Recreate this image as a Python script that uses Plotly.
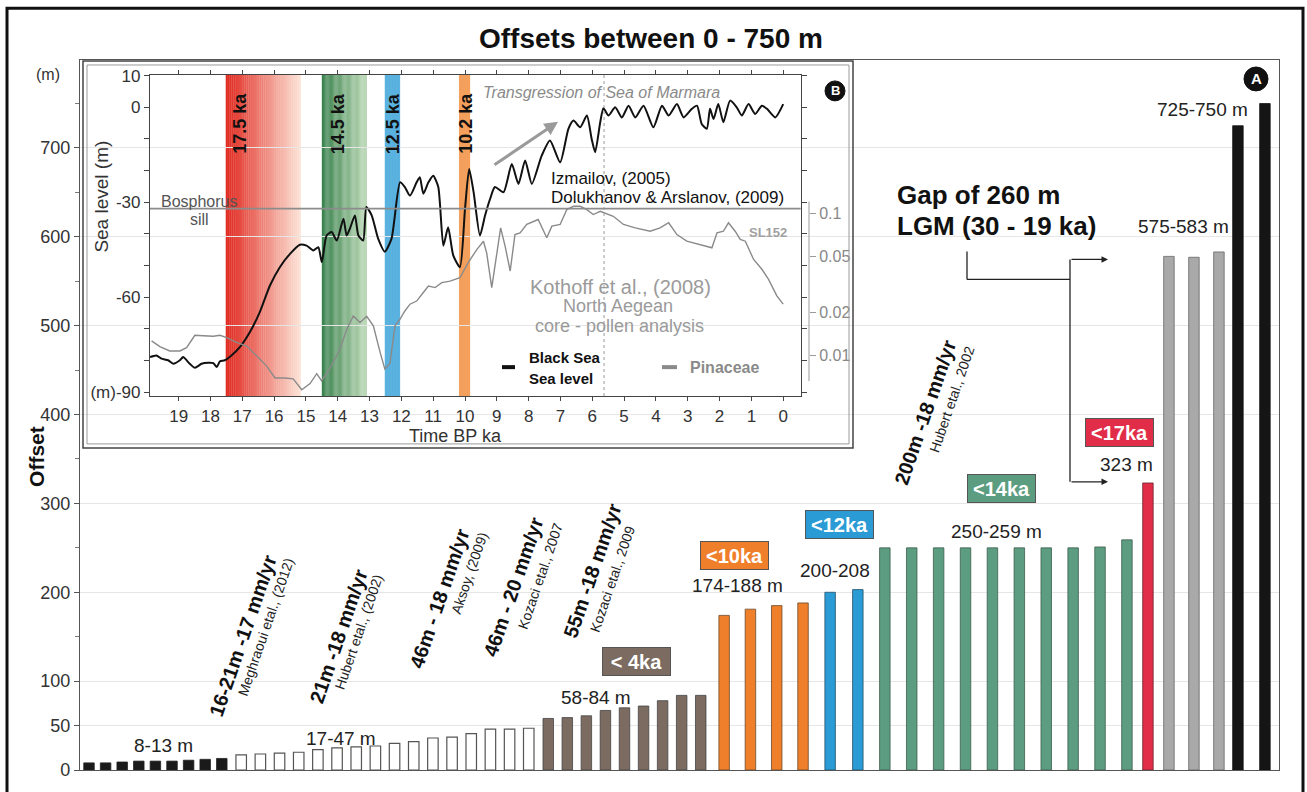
import plotly.graph_objects as go

FONT = "Liberation Sans, Arial, sans-serif"
W, H = 1307, 792
PL, PR, PT, PB = 80, 1279, 60, 772


def px(x):
    return (x - PL) / (PR - PL)


def py(y):
    return (PB - y) / (PB - PT)


# ---------------- main chart data (offsets, m) ----------------
GROUP_LABELS = ["8-13 m", "17-47 m", "58-84 m", "174-188 m", "200-208",
                "250-259 m", "323 m", "575-583 m", "725-750 m"]
OFF_8_13 = [8, 8, 9, 10, 10, 10, 11, 12, 13]
OFF_17_47 = [17, 18, 19, 20, 23, 25, 26, 27, 30, 32, 36, 37, 41, 46, 46, 47]
OFF_58_84 = [58, 59, 61, 67, 70, 72, 78, 84, 84]
OFF_LT10 = [174, 181, 185, 188]
OFF_LT12 = [200, 203]
OFF_LT14 = [250, 250, 250, 250, 250, 250, 250, 250, 251, 259]
OFF_LT17 = [323]
OFF_575_583 = [578, 577, 583]
OFF_725_750 = [725, 750]
AGE_BOX_LABELS = ["< 4ka", "<10ka", "<12ka", "<14ka", "<17ka"]
Y_TICKS = [0, 50, 100, 200, 300, 400, 500, 600, 700]

# ---------------- inset data ----------------
SL_KA = [19.9, 19.7, 19.54, 19.33, 19.17, 18.96, 18.86, 18.65, 18.49, 18.28, 18.07, 17.91, 17.8, 17.7,
         17.55, 17.34, 17.07, 16.76, 16.45, 16.13, 15.82, 15.5, 15.19, 14.98, 14.77, 14.61, 14.5, 14.35,
         14.19, 14.03, 13.82, 13.72, 13.62, 13.46, 13.35, 13.2, 13.1, 12.93, 12.73, 12.52, 12.31, 12.04,
         11.89, 11.73, 11.52, 11.42, 11.31, 11.15, 11.0, 10.84, 10.68, 10.53, 10.37, 10.16, 10.0, 9.87,
         9.73, 9.53, 9.37, 9.21, 9.06, 8.79, 8.53, 8.32, 8.11, 7.9, 7.59, 7.33, 7.01, 6.75, 6.59, 6.38,
         6.17, 6.02, 5.91, 5.75, 5.65, 5.49, 5.28, 5.07, 4.86, 4.65, 4.39, 4.08, 3.81, 3.6, 3.34, 3.13,
         2.87, 2.71, 2.56, 2.4, 2.3, 2.19, 2.04, 1.88, 1.67, 1.46, 1.3, 1.09, 0.88, 0.67, 0.51, 0.25, 0.0]
SL_M = [-78.9, -78.4, -79.4, -79.9, -81, -79.9, -78.9, -81, -82.3, -81, -80.7, -80.8, -82, -80.2,
        -79.9, -78.4, -75.7, -71, -64.7, -56.3, -50.5, -46.3, -43.4, -43.7, -45.2, -44.2, -48.9, -40.5,
        -39.4, -42.1, -35.2, -40.5, -38.4, -34.2, -40.5, -42.1, -31.5, -34.2, -41.5, -45.6, -41.5, -23.7,
        -25.2, -27.9, -23.7, -22.1, -27.3, -23.7, -21.6, -25.2, -43.7, -37.9, -46.8, -50.5, -32.1, -19.5,
        -26.8, -40.5, -34.2, -28.9, -25.2, -26.8, -17.9, -24.2, -16.8, -24.2, -15.3, -10.5, -17.4, -6.8,
        -4.2, -6.3, -2.6, -10, -14.2, -4.7, -0.3, -2.6, 0, -3.2, 0.5, -3.2, 0.5, -6.3, 0.5, -2.6, 1, -3.2,
        -0.5, 0.5, -5.3, -6.8, -0.5, -3.7, 1, -4.7, 2.1, 0, -2.6, 1, -2.1, 0.5, -0.5, -3.2, 1]
PIN_KA = [19.85, 19.59, 19.28, 18.96, 18.75, 18.49, 18.23, 17.91, 17.7, 17.49, 17.18, 16.86, 16.55, 16.24,
          15.97, 15.66, 15.4, 15.13, 14.87, 14.66, 14.51, 14.25, 13.93, 13.72, 13.51, 13.3, 13.09, 12.88,
          12.67, 12.52, 12.36, 12.2, 12.04, 11.89, 11.73, 11.52, 11.31, 11.15, 10.94, 10.73, 10.47, 10.16,
          9.9, 9.63, 9.42, 9.32, 9.16, 9.0, 8.88, 8.74, 8.58, 8.43, 8.27, 8.06, 7.7, 7.43, 7.27, 7.01, 6.8,
          6.59, 6.38, 6.17, 5.97, 5.75, 5.34, 5.02, 4.65, 4.18, 3.87, 3.6, 3.34, 3.03, 2.61, 2.24, 2.08,
          1.88, 1.72, 1.51, 1.35, 1.19, 0.93, 0.67, 0.46, 0.2, 0.0]
PIN_FRAC = [0.0126, 0.0115, 0.0107, 0.0107, 0.0113, 0.0138, 0.0137, 0.0136, 0.0138, 0.0133, 0.0123, 0.0116,
            0.0099, 0.0084, 0.0069, 0.0069, 0.0068, 0.0057, 0.0063, 0.0074, 0.0066, 0.0080, 0.0110, 0.0152,
            0.0189, 0.0170, 0.0188, 0.0161, 0.0105, 0.0080, 0.0087, 0.0161, 0.0180, 0.0205, 0.0229, 0.0241,
            0.0277, 0.0308, 0.0300, 0.0325, 0.0333, 0.0352, 0.0450, 0.0557, 0.0638, 0.0528, 0.0300, 0.0528,
            0.0793, 0.0589, 0.0393, 0.0711, 0.0731, 0.0838, 0.0908, 0.0675, 0.0815, 0.0838, 0.1067, 0.1125,
            0.1125, 0.1067, 0.0984, 0.1038, 0.0957, 0.0838, 0.0793, 0.0750, 0.0793, 0.0861, 0.0711, 0.0638,
            0.0605, 0.0573, 0.0731, 0.0750, 0.0861, 0.0750, 0.0656, 0.0638, 0.0474, 0.0404, 0.0343, 0.0262,
            0.0229]
BAND_LABELS = ["17.5 ka", "14.5 ka", "12.5 ka", "10.2 ka"]
BAND_START = [17.52, 14.5, 12.52, 10.19]
BAND_END = [15.16, 13.08, 12.04, 9.84]
SILL_LEVEL = -32
DOTTED_KA = 5.63
TIME_TICKS = list(range(0, 20))
SL_TICKS = [10, 0, -10, -20, -30, -40, -50, -60, -70, -80, -90]
SL_TICKTEXT = ["10", "0", "", "", "-30", "", "", "-60", "", "", "(m)-90"]
PIN_TICKS = [0.01, 0.02, 0.05, 0.1]

# ---------------- styles / layout constants ----------------
GROUP_VALUES = [OFF_8_13, OFF_17_47, OFF_58_84, OFF_LT10, OFF_LT12, OFF_LT14, OFF_LT17, OFF_575_583, OFF_725_750]
GROUP_FILL = ["#1a1a1a", "#ffffff", "#7b6b60", "#ef7f2a", "#2a9bd5", "#5c9c80", "#e12d48", "#a9a9a9", "#151515"]
GROUP_LINE = ["#222222", "#555555", "#444444", "#6b4a2a", "#24506a", "#3c5e4c", "#6a2430", "#666666", "#111111"]
FIRST_BAR_X = 89
GROUP_PITCH = [16.6, 19.17, 19.06, 26.3, 27.7, 26.9, 21.0, 25.0, 27.0]
GROUP_GAP = [0, 19.4, 19.5, 23.4, 27.1, 27.0, 21.0, 21.0, 19.0]
BAR_W = 10.5

fig = go.Figure()

cur = None
for gi, vals in enumerate(GROUP_VALUES):
    xs = []
    for j in range(len(vals)):
        if cur is None:
            cur = FIRST_BAR_X
        elif j == 0:
            cur += GROUP_GAP[gi]
        else:
            cur += GROUP_PITCH[gi]
        xs.append(cur)
    fig.add_trace(go.Bar(x=xs, y=vals, width=BAR_W, name=GROUP_LABELS[gi],
                         marker=dict(color=GROUP_FILL[gi],
                                     line=dict(color=GROUP_LINE[gi], width=1.2 if gi == 1 else 0.8)),
                         xaxis="x", yaxis="y", showlegend=False, hoverinfo="skip"))

fig.add_trace(go.Scatter(x=SL_KA, y=SL_M, mode="lines", name="Black Sea level",
                         line=dict(color="#111111", width=2, shape="spline", smoothing=0.6),
                         xaxis="x2", yaxis="y2", showlegend=False, hoverinfo="skip"))
fig.add_trace(go.Scatter(x=PIN_KA, y=PIN_FRAC, mode="lines", name="Pinaceae",
                         line=dict(color="#8a8a8a", width=1.4),
                         xaxis="x2", yaxis="y3", showlegend=False, hoverinfo="skip"))

shapes = []
annotations = []


def ann(x, y, text, size=15, color="#222222", angle=0, xanchor="center", family=FONT, **kw):
    d = dict(x=px(x), y=py(y), xref="paper", yref="paper", text=text, showarrow=False,
             font=dict(size=size, color=color, family=family), textangle=angle,
             xanchor=xanchor, yanchor="middle")
    d.update(kw)
    annotations.append(d)


def line_px(x0, y0, x1, y1, color="#222222", width=1.2, dash="solid", layer="above"):
    shapes.append(dict(type="line", xref="paper", yref="paper", x0=px(x0), y0=py(y0), x1=px(x1), y1=py(y1),
                       line=dict(color=color, width=width, dash=dash), layer=layer))


# outer frame
shapes.append(dict(type="rect", xref="paper", yref="paper", x0=px(7), x1=px(1303), y0=py(800), y1=py(8),
                   line=dict(color="#111111", width=3), layer="above"))
# inset double frame
shapes.append(dict(type="rect", xref="paper", yref="paper", x0=px(83), x1=px(853), y0=py(449), y1=py(61),
                   line=dict(color="#444444", width=1.5), layer="above"))
shapes.append(dict(type="rect", xref="paper", yref="paper", x0=px(87), x1=px(849), y0=py(445), y1=py(65),
                   line=dict(color="#9a9a9a", width=1), layer="above"))


# inset colour bands
def mix(c0, c1, t):
    return "rgb(%d,%d,%d)" % tuple(round(a + (b - a) * t) for a, b in zip(c0, c1))


BAND_COLORS = [((224, 40, 30), (253, 228, 216)), ((58, 130, 78), (190, 218, 184)),
               ((42, 155, 213), (42, 155, 213)), ((240, 128, 40), (240, 128, 40))]
NSLICE = 40
for s, e, (c0, c1) in zip(BAND_START, BAND_END, BAND_COLORS):
    for i in range(NSLICE):
        a = s + (e - s) * i / NSLICE
        b = s + (e - s) * (i + 1.15) / NSLICE
        if i == NSLICE - 1:
            b = e
        shapes.append(dict(type="rect", xref="x2", yref="y2 domain", x0=a, x1=b, y0=0, y1=1,
                           fillcolor=mix(c0, c1, (i + 0.5) / NSLICE), line=dict(width=0), layer="below"))

# Bosphorus sill line and dotted line
shapes.append(dict(type="line", xref="x2 domain", yref="y2", x0=0, x1=1, y0=SILL_LEVEL, y1=SILL_LEVEL,
                   line=dict(color="#8c8c8c", width=1.6), layer="above"))
shapes.append(dict(type="line", xref="x2", yref="y2 domain", x0=DOTTED_KA, x1=DOTTED_KA, y0=0, y1=1,
                   line=dict(color="#9a9a9a", width=1, dash="dot"), layer="above"))
# secondary axis spine
line_px(809, 202, 809, 382, color="#9a9a9a", width=1)

# band labels
for lab, xpix in zip(BAND_LABELS, [240, 337.5, 392.5, 466]):
    ann(xpix, 124, "<b>%s</b>" % lab, size=18, color="#111111", angle=-90)

# inset texts
ann(102, 197, "Sea level (m)", size=19, color="#333333", angle=-90)
ann(455, 437, "Time BP ka", size=18, color="#333333")
ann(199, 202, "Bosphorus", size=16, color="#555555")
ann(199, 220, "sill", size=16, color="#555555")
ann(481, 93, "<i>Transgression of Sea of Marmara</i>", size=16, color="#8a8a8a", xanchor="left")
annotations.append(dict(x=px(558), y=py(122), xref="paper", yref="paper", ax=-65, ay=44, text="",
                        showarrow=True, arrowhead=2, arrowsize=0.9, arrowwidth=3, arrowcolor="#9a9a9a"))
ann(549, 179, "Izmailov, (2005)", size=17, color="#111111", xanchor="left")
ann(549, 198, "Dolukhanov &amp; Arslanov, (2009)", size=17, color="#111111", xanchor="left")
ann(768, 233, "<b>SL152</b>", size=13, color="#a0a0a0")
ann(620, 288, "Kothoff et al., (2008)", size=20, color="#9a9a9a")
ann(618, 307, "North Aegean", size=18, color="#9a9a9a")
ann(619, 327, "core - pollen analysis", size=18, color="#9a9a9a")
line_px(502, 368, 515, 368, color="#111111", width=4)
ann(527, 358, "<b>Black Sea</b>", size=15, color="#111111", xanchor="left")
ann(527, 379, "<b>Sea level</b>", size=15, color="#111111", xanchor="left")
line_px(662, 368, 677, 368, color="#8a8a8a", width=4)
ann(688, 368, "<b>Pinaceae</b>", size=16, color="#8a8a8a", xanchor="left")
# B marker
shapes.append(dict(type="circle", xref="paper", yref="paper", x0=px(825), x1=px(845), y0=py(101), y1=py(81),
                   fillcolor="#111111", line=dict(color="#111111", width=1), layer="above"))
ann(835, 91, "<b>B</b>", size=13, color="#ffffff")

# A marker
shapes.append(dict(type="circle", xref="paper", yref="paper", x0=px(1244), x1=px(1268), y0=py(91), y1=py(67),
                   fillcolor="#111111", line=dict(color="#111111", width=1), layer="above"))
ann(1256, 79, "<b>A</b>", size=15, color="#ffffff")

# title, axis title
ann(651, 38, "<b>Offsets between 0 - 750 m</b>", size=28, color="#111111")
ann(37, 458, "<b>Offset</b>", size=21, color="#111111", angle=-90)
ann(48, 75, "(m)", size=16, color="#333333")

# range labels
for txt, (xx, yy) in zip(GROUP_LABELS, [(163, 747), (341, 740), (596, 699), (737, 587), (835, 572),
                                        (996, 533), (1126, 466), (1183, 227), (1202, 110)]):
    ann(xx, yy, txt, size=19, color="#222222")

# age boxes
BOX_COLORS = ["#7b6b60", "#ef7f2a", "#2a9bd5", "#5c9c80", "#e12d48"]
for txt, col, (xx, yy) in zip(AGE_BOX_LABELS, BOX_COLORS,
                              [(636, 663), (734, 557), (839, 526), (1001, 490), (1119, 434)]):
    ann(xx, yy, "<b>%s</b>" % txt, size=20, color="#ffffff", bgcolor=col, bordercolor="#555555",
        borderwidth=1, borderpad=0, width=67, height=27)

# rotated slip-rate labels
RATE_TEXT = ["16-21m -17 mm/yr", "21m -18 mm/yr", "46m - 18 mm/yr", "46m - 20 mm/yr", "55m -18 mm/yr",
             "200m -18 mm/yr"]
RATE_REF = ["Meghraoui etal., (2012)", "Hubert etal., (2002)", "Aksoy, (2009)", "Kozaci etal., 2007",
            "Kozaci etal., 2009", "Hubert etal., 2002"]
RATE_POS = [(243, 638), (339, 638), (440, 600), (513, 588), (592, 572), (925, 414)]
REF_POS = [(266, 629), (359, 634), (469, 574), (540, 577), (612, 580), (952, 400)]
for t, r, (x1, y1), (x2, y2) in zip(RATE_TEXT, RATE_REF, RATE_POS, REF_POS):
    ann(x1, y1, "<b>%s</b>" % t, size=20, color="#111111", angle=-71)
    ann(x2, y2, r, size=14, color="#222222", angle=-71)

# LGM gap annotation
ann(895, 195, "<b>Gap of 260 m</b>", size=26, color="#111111", xanchor="left")
ann(895, 226, "<b>LGM (30 - 19 ka)</b>", size=26, color="#111111", xanchor="left")
line_px(967, 252, 967, 280, color="#222222", width=1.3)
line_px(967, 280, 1070, 280, color="#222222", width=1.3)
line_px(1070, 260, 1070, 483, color="#222222", width=1.3)
for yy in (260, 483):
    annotations.append(dict(x=px(1108), y=py(yy), xref="paper", yref="paper", ax=-38, ay=0, text="",
                            showarrow=True, arrowhead=2, arrowsize=1, arrowwidth=1.3, arrowcolor="#222222"))

fig.update_layout(
    width=W, height=H, autosize=False,
    margin=dict(l=PL, r=W - PR, t=PT, b=H - PB, pad=0),
    paper_bgcolor="white", plot_bgcolor="rgba(0,0,0,0)",
    barmode="overlay", showlegend=False,
    font=dict(family=FONT, color="#222222"),
    xaxis=dict(domain=[0, 1], range=[PL, PR], showticklabels=False, ticks="", showgrid=False,
               zeroline=False, showline=True, mirror=True, linecolor="#555555", linewidth=1.2, fixedrange=True),
    yaxis=dict(domain=[0, 1], range=[0, 799], tickvals=Y_TICKS, ticks="outside", ticklen=5,
               tickcolor="#555555", tickfont=dict(size=18, color="#333333"), showgrid=True,
               gridcolor="#e6e6e6", gridwidth=1, zeroline=False, showline=True, mirror=True,
               linecolor="#555555", linewidth=1.2,
               minor=dict(tickvals=[150, 250, 350, 450, 550, 650, 750], ticks="outside", ticklen=4,
                          tickcolor="#777777", showgrid=False)),
    xaxis2=dict(domain=[px(150), px(800.7)], anchor="y2", range=[19.9, -0.55], tickvals=TIME_TICKS,
                ticks="outside", ticklen=4, tickcolor="#444444", showline=True, mirror="ticks",
                linecolor="#444444", linewidth=1.2, tickfont=dict(size=17, color="#333333"),
                showgrid=False, zeroline=False),
    yaxis2=dict(domain=[py(397), py(75)], anchor="x2", range=[-91.2, 10.2], tickvals=SL_TICKS,
                ticktext=SL_TICKTEXT, ticks="outside", ticklen=5, tickcolor="#444444", showline=True,
                mirror="ticks", linecolor="#444444", linewidth=1.2, tickfont=dict(size=17, color="#333333"),
                showgrid=False, zeroline=False),
    yaxis3=dict(overlaying="y2", anchor="free", position=px(809), side="right", type="log",
                range=[-2.289, -0.021], tickvals=PIN_TICKS, ticktext=["0.01", "0.02", "0.05", "0.1"],
                ticks="outside", ticklen=6, tickcolor="#9a9a9a", tickfont=dict(size=16, color="#888888"),
                showline=False, showgrid=False, zeroline=False),
    shapes=shapes, annotations=annotations,
)

fig.write_html("out.html", config={"displayModeBar": False},
               post_script="document.body.style.margin='0';")
